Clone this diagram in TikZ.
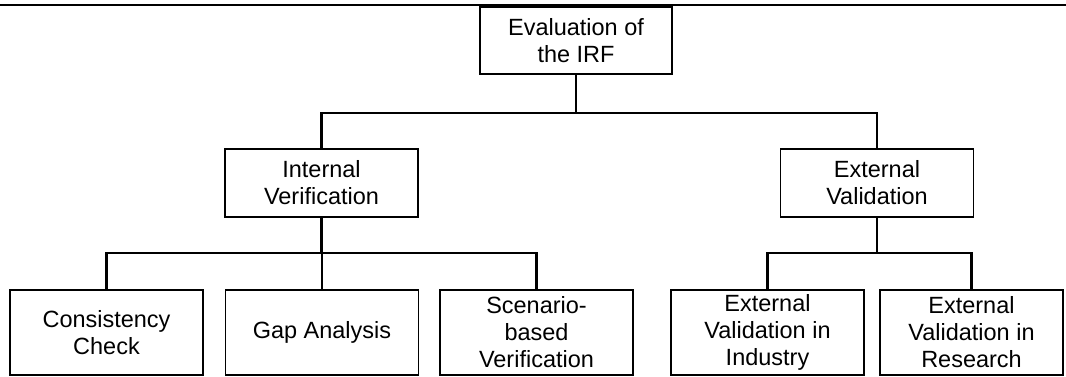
\documentclass[tikz,border=0pt]{standalone}
\usepackage{fontspec}
\setmainfont{Liberation Sans}
\usepackage{tikz}
\tikzstyle{box}=[rectangle,draw=black,line width=1.4pt,fill=white,align=center,inner sep=0pt,minimum width=193*0.025cm,anchor=center,font=\fontsize{16.7pt}{19.2pt}\selectfont]
\tikzstyle{conn}=[line width=2.1pt,line cap=rect]
\begin{document}
\begin{tikzpicture}[x=0.025cm,y=-0.025cm]
	\useasboundingbox (0,0) rectangle (1066,376);
	% page rule
	\draw[line width=1.8pt] (0,5) -- (1066,5);

	\node[box, minimum width=192*0.025cm, minimum height=67*0.025cm](eval) at (576,40.5){Evaluation of\\the IRF};
	\node[box, minimum height=68*0.025cm](intver) at (321.5,183){Internal\\Verification};
	\node[box, minimum height=68*0.025cm](extval) at (877,183){External\\Validation};

	\node[box, minimum height=85*0.025cm](cons) at (106.5,332.5){Consistency\\Check};
	\node[box, minimum height=85*0.025cm](gap) at (322,332.5){Gap Analysis};
	\node[box, minimum height=85*0.025cm](scen) at (536.5,332.5){Scenario-\\based\\Verification};
	\node[box, minimum height=85*0.025cm](extind) at (767.5,332.5){External\\Validation in\\Industry};
	\node[box, minimum width=183*0.025cm, minimum height=85*0.025cm](extres) at (971.5,332.5){External\\Validation in\\Research};

	\coordinate (j1) at (576,113);
	\coordinate (j2) at (321.5,253);
	\coordinate (j3) at (877,253);

	\draw[conn] (eval.south) -- (j1);
	\draw[conn] (intver.north) -- (intver.north |- j1) -- (extval.north |- j1) -- (extval.north);

	\draw[conn] (intver.south) -- (j2);
	\draw[conn] (cons.north) -- (cons.north |- j2) -- (scen.north |- j2) -- (scen.north);
	\draw[conn] (gap.north) -- (gap.north |- j2);

	\draw[conn] (extval.south) -- (j3);
	\draw[conn] (extind.north) -- (extind.north |- j3) -- (extres.north |- j3) -- (extres.north);
\end{tikzpicture}
\end{document}
